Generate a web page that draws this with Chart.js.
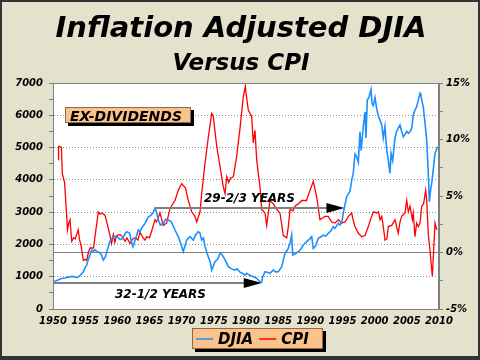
<!DOCTYPE html>
<html>
<head>
<meta charset="utf-8">
<script src="https://cdn.jsdelivr.net/npm/chart.js@4.4.1/dist/chart.umd.min.js"></script>
<style>
  html, body { margin: 0; padding: 0; background: #e4e2cd; }
</style>
</head>
<body>
<canvas id="djiaChart" width="480" height="360"></canvas>
<script>
// Inflation adjusted DJIA (left axis)
const djiaYears = [
  1950.00, 1950.40, 1950.80, 1951.09, 1951.50, 1951.90, 1952.13, 1952.64, 1953.00, 1953.40,
  1953.68, 1953.93, 1954.30, 1954.71, 1955.00, 1955.24, 1955.50, 1955.75, 1956.02, 1956.30,
  1956.53, 1956.84, 1957.20, 1957.50, 1957.82, 1958.10, 1958.40, 1958.86, 1959.37, 1959.90,
  1960.41, 1960.80, 1961.19, 1961.46, 1961.90, 1962.23, 1962.43, 1962.80, 1963.26, 1963.52,
  1963.90, 1964.30, 1964.81, 1965.20, 1965.54, 1965.85, 1966.10, 1966.37, 1966.70, 1967.14,
  1967.50, 1967.92, 1968.40, 1968.96, 1969.48, 1969.90, 1970.25, 1970.78, 1971.30, 1971.81,
  1972.20, 1972.59, 1972.85, 1973.11, 1973.40, 1973.63, 1974.14, 1974.45, 1974.67, 1975.18,
  1975.60, 1975.96, 1976.20, 1976.47, 1976.80, 1977.25, 1977.70, 1978.00, 1978.29, 1978.60,
  1979.07, 1979.50, 1979.84, 1980.11, 1980.50, 1981.13, 1981.60, 1982.18, 1982.40, 1982.60,
  1982.95, 1983.40, 1983.73, 1984.24, 1984.60, 1985.02, 1985.55, 1986.06, 1986.50, 1986.84,
  1987.10, 1987.26, 1987.60, 1988.13, 1988.50, 1988.91, 1989.43, 1989.80, 1990.21, 1990.46,
  1990.80, 1991.24, 1991.60, 1992.02, 1992.40, 1992.79, 1993.20, 1993.57, 1993.83, 1994.35,
  1994.61, 1994.90, 1995.12, 1995.40, 1995.65, 1996.17, 1996.43, 1996.68, 1996.94, 1997.21,
  1997.46, 1997.72, 1997.90, 1998.23, 1998.50, 1998.65, 1998.85, 1999.10, 1999.43, 1999.60,
  1999.79, 2000.05, 2000.32, 2000.55, 2000.83, 2001.10, 2001.34, 2001.60, 2001.87, 2002.12,
  2002.38, 2002.55, 2002.80, 2003.16, 2003.40, 2003.94, 2004.20, 2004.45, 2004.71, 2004.98,
  2005.23, 2005.50, 2005.76, 2006.00, 2006.27, 2006.53, 2006.78, 2007.05, 2007.20, 2007.40,
  2007.56, 2007.80, 2008.09, 2008.34, 2008.50, 2008.70, 2008.87, 2009.10, 2009.38, 2009.55,
  2009.75
];
const djiaValues = [
  845, 870, 900, 930, 950, 960, 980, 1000, 1010, 990,
  975, 990, 1060, 1155, 1280, 1360, 1550, 1670, 1827, 1790,
  1840, 1775, 1760, 1690, 1517, 1600, 1800, 2100, 2240, 2260,
  2150, 2180, 2330, 2394, 2350, 2050, 1930, 2150, 2450, 2400,
  2550, 2650, 2850, 2900, 2980, 3117, 3000, 2755, 2600, 2653,
  2780, 2755, 2700, 2446, 2240, 2000, 1775, 2136, 2240, 2136,
  2300, 2394, 2350, 2136, 2200, 1930, 1620, 1450, 1207, 1465,
  1550, 1724, 1700, 1620, 1500, 1310, 1250, 1220, 1207, 1250,
  1140, 1100, 1053, 1104, 1050, 1000, 960, 845, 830, 1000,
  1155, 1130, 1104, 1207, 1150, 1155, 1310, 1724, 1850, 2033,
  2290, 1672, 1700, 1775, 1850, 1981, 2085, 2150, 2240, 1878,
  1950, 2188, 2230, 2290, 2250, 2343, 2420, 2548, 2498, 2653,
  2600, 2700, 2962, 3250, 3478, 3650, 3994, 4200, 4800, 4716,
  4550, 5500, 4900, 5645, 6100, 5300, 6470, 6550, 6800, 6350,
  6300, 6550, 6200, 6000, 5850, 5700, 5300, 5650, 4923, 4600,
  4200, 4820, 4600, 5300, 5500, 5700, 5500, 5335, 5400, 5500,
  5440, 5500, 5594, 6000, 6160, 6263, 6470, 6677, 6600, 6400,
  6263, 5800, 5230, 4200, 3322, 3700, 3900, 4300, 4820, 4900,
  5025
];

// CPI year-over-year % (right axis)
const cpiYears = [
  1950.82, 1950.87, 1951.00, 1951.30, 1951.45, 1951.56, 1951.80, 1952.13, 1952.25, 1952.45,
  1952.64, 1952.91, 1953.20, 1953.45, 1953.68, 1953.93, 1954.10, 1954.40, 1954.71, 1955.00,
  1955.24, 1955.50, 1955.75, 1956.30, 1956.53, 1957.04, 1957.30, 1957.60, 1958.08, 1958.40,
  1958.86, 1959.10, 1959.37, 1959.60, 1959.90, 1960.41, 1960.90, 1961.20, 1961.50, 1961.97,
  1962.40, 1962.80, 1963.20, 1963.52, 1964.00, 1964.30, 1964.56, 1965.00, 1965.34, 1965.85,
  1966.10, 1966.63, 1967.14, 1967.66, 1968.19, 1968.96, 1969.48, 1970.00, 1970.60, 1971.03,
  1971.56, 1972.07, 1972.34, 1972.85, 1973.11, 1973.63, 1974.14, 1974.67, 1974.90, 1975.45,
  1975.96, 1976.47, 1976.74, 1977.00, 1977.30, 1977.60, 1978.03, 1978.55, 1979.07, 1979.58,
  1979.90, 1980.00, 1980.36, 1980.89, 1981.13, 1981.40, 1981.66, 1981.91, 1982.18, 1982.44,
  1982.95, 1983.22, 1983.73, 1984.24, 1984.80, 1985.28, 1985.80, 1986.33, 1986.58, 1986.84,
  1987.30, 1987.62, 1988.13, 1988.66, 1989.40, 1989.95, 1990.46, 1990.99, 1991.50, 1992.28,
  1992.79, 1993.32, 1993.83, 1994.35, 1994.87, 1995.40, 1995.90, 1996.43, 1996.60, 1996.94,
  1997.46, 1997.98, 1998.50, 1999.01, 1999.54, 1999.79, 2000.32, 2000.60, 2000.83, 2001.10,
  2001.34, 2001.61, 2001.90, 2002.12, 2002.65, 2003.16, 2003.40, 2003.67, 2003.90, 2004.20,
  2004.71, 2004.98, 2005.23, 2005.50, 2005.85, 2006.00, 2006.27, 2006.53, 2006.78, 2007.05,
  2007.31, 2007.60, 2007.93, 2008.09, 2008.35, 2008.60, 2008.96, 2009.15, 2009.38, 2009.65
];
const cpiValues = [
  8.2, 9.4, 9.4, 9.3, 7.0, 6.7, 6.2, 3.2, 2.0, 2.6,
  2.9, 1.0, 1.3, 1.2, 1.6, 2.0, 1.2, 0.5, -0.7, -0.6,
  -0.7, 0.0, 0.4, 0.4, 1.4, 3.6, 3.4, 3.5, 3.3, 2.6,
  1.5, 0.8, 1.6, 0.9, 1.5, 1.6, 1.3, 1.0, 1.3, 0.8,
  1.2, 1.3, 1.1, 1.8, 1.3, 1.1, 1.4, 1.3, 1.9, 2.9,
  2.7, 3.5, 2.4, 2.6, 3.9, 4.6, 5.5, 6.1, 5.7, 4.6,
  3.6, 3.2, 2.7, 3.6, 5.2, 7.9, 10.2, 12.3, 12.1, 9.4,
  7.6, 5.8, 5.2, 6.7, 6.2, 6.6, 6.7, 8.5, 11.0, 13.8,
  14.7, 14.1, 12.6, 12.0, 9.7, 10.8, 8.2, 7.0, 5.8, 3.8,
  3.5, 2.4, 4.6, 4.3, 3.8, 3.5, 1.5, 1.3, 2.3, 3.8,
  3.7, 4.1, 4.3, 4.6, 4.6, 5.5, 6.3, 4.9, 2.9, 3.2,
  3.2, 2.7, 2.6, 2.9, 2.6, 2.7, 3.2, 3.5, 3.0, 2.3,
  1.7, 1.4, 1.5, 2.3, 3.2, 3.6, 3.5, 3.6, 2.9, 3.2,
  2.3, 1.1, 1.2, 2.3, 2.4, 2.9, 2.3, 1.7, 2.6, 3.2,
  3.5, 4.6, 3.6, 4.1, 2.9, 3.5, 1.4, 2.6, 2.3, 2.6,
  4.1, 4.3, 5.5, 4.6, 1.5, 0.2, -2.1, 0.0, 2.6, 2.0
];

const yearTicks = [1950, 2010, 5];
const djiaRange = [0, 7000];
const cpiRange = [-5, 15];

// the two "years" arrows: [startYear, endYear, djiaLevel, label]
const arrows = [
  [1950.0, 1982.45, 800, '32-1/2 YEARS'],
  [1965.85, 1995.3, 3117, '29-2/3 YEARS']
];

const FONT = '"DejaVu Sans", Verdana, sans-serif';
const PEACH = '#fbc38c';

Chart.defaults.font.family = FONT;
Chart.defaults.font.style = 'italic';
Chart.defaults.font.weight = 'bold';
Chart.defaults.font.size = 10;
Chart.defaults.color = '#000';

function box(ctx, x, y, w, h) {
  ctx.fillStyle = '#000';
  ctx.fillRect(x + 3, y + 3, w, h);
  ctx.fillStyle = PEACH;
  ctx.fillRect(x, y, w, h);
  ctx.strokeStyle = '#8a6a4a';
  ctx.lineWidth = 1;
  ctx.strokeRect(x + 0.5, y + 0.5, w - 1, h - 1);
}

const decor = {
  id: 'decor',
  beforeDraw(chart) {
    const { ctx, chartArea: a } = chart;
    ctx.save();
    ctx.fillStyle = '#e4e2cd';
    ctx.fillRect(0, 0, chart.width, chart.height);
    ctx.fillStyle = '#fff';
    ctx.fillRect(a.left, a.top, a.right - a.left, a.bottom - a.top);
    ctx.restore();
  },
  afterDraw(chart) {
    const { ctx, chartArea: a, scales } = chart;
    ctx.save();
    // plot frame
    ctx.strokeStyle = '#808080';
    ctx.lineWidth = 1;
    ctx.strokeRect(a.left + 0.5, a.top + 0.5, a.right - a.left - 1, a.bottom - a.top);

    // title
    ctx.fillStyle = '#000';
    ctx.textAlign = 'center';
    ctx.textBaseline = 'alphabetic';
    ctx.font = 'italic bold 29px ' + FONT;
    ctx.fillText('Inflation Adjusted DJIA', 241, 37);
    ctx.font = 'italic bold 23px ' + FONT;
    ctx.fillText('Versus CPI', 241, 70);

    // arrows
    arrows.forEach(([y0, y1, lvl, label], i) => {
      const x0 = scales.x.getPixelForValue(y0);
      const x1 = scales.x.getPixelForValue(y1);
      const yy = Math.round(scales.y.getPixelForValue(lvl));
      ctx.strokeStyle = '#808080';
      ctx.lineWidth = 2;
      ctx.beginPath();
      ctx.moveTo(x0, yy);
      ctx.lineTo(x1 - 16, yy);
      ctx.stroke();
      ctx.fillStyle = '#000';
      ctx.beginPath();
      ctx.moveTo(x1, yy);
      ctx.lineTo(x1 - 18, yy - 5);
      ctx.lineTo(x1 - 18, yy + 5);
      ctx.closePath();
      ctx.fill();
      ctx.font = 'italic bold 12px ' + FONT;
      ctx.textAlign = 'left';
      if (i === 0) ctx.fillText(label, 115, 298);
      else ctx.fillText(label, 204, 202);
    });

    // EX-DIVIDENDS tag
    box(ctx, 65, 107, 126, 16);
    ctx.fillStyle = '#000';
    ctx.font = 'italic bold 14px ' + FONT;
    ctx.textAlign = 'left';
    ctx.fillText('EX-DIVIDENDS', 70, 121);

    // legend
    box(ctx, 192, 328, 131, 21);
    ctx.font = 'italic bold 15px ' + FONT;
    let lx = 196;
    chart.data.datasets.forEach(ds => {
      ctx.strokeStyle = ds.borderColor;
      ctx.lineWidth = 1.5;
      ctx.beginPath();
      ctx.moveTo(lx, 339);
      ctx.lineTo(lx + 17, 339);
      ctx.stroke();
      ctx.fillStyle = '#000';
      ctx.fillText(ds.label, lx + 22, 344);
      lx += 22 + ctx.measureText(ds.label).width + 6;
    });

    // outer frame
    ctx.strokeStyle = '#333';
    ctx.lineWidth = 2;
    ctx.strokeRect(1, 1, chart.width - 2, chart.height - 2);
    ctx.fillStyle = '#333';
    ctx.fillRect(0, chart.height - 4, chart.width, 4);
    ctx.restore();
  }
};

new Chart(document.getElementById('djiaChart'), {
  type: 'line',
  data: {
    datasets: [
      {
        label: 'DJIA',
        data: djiaYears.map((x, i) => ({ x, y: djiaValues[i] })),
        borderColor: '#1e8fff',
        borderWidth: 1.6,
        pointRadius: 0,
        yAxisID: 'y'
      },
      {
        label: 'CPI',
        data: cpiYears.map((x, i) => ({ x, y: cpiValues[i] })),
        borderColor: '#ff0000',
        borderWidth: 1.3,
        pointRadius: 0,
        yAxisID: 'y2'
      }
    ]
  },
  options: {
    responsive: false,
    animation: false,
    layout: { padding: { top: 83, left: 0, right: 0, bottom: 0 } },
    plugins: { legend: { display: false }, tooltip: { enabled: false } },
    scales: {
      x: {
        type: 'linear',
        min: yearTicks[0],
        max: yearTicks[1],
        afterFit: s => { s.height = 51; },
        grid: { display: false, drawTicks: false },
        border: { display: true, color: '#808080' },
        ticks: { stepSize: yearTicks[2], autoSkip: false, maxRotation: 0, padding: 6, includeBounds: false,
                  callback: v => String(v) }
      },
      y: {
        position: 'left',
        min: djiaRange[0],
        max: djiaRange[1],
        afterFit: s => { s.width = 53; },
        grid: {
          color: c => (c.tick && c.tick.value % 1000 === 0) ? '#8c8c8c' : 'rgba(0,0,0,0)',
          tickColor: '#808080',
          tickLength: 4
        },
        border: { color: '#808080', dash: [1, 2] },
        ticks: { stepSize: 500, autoSkip: false, padding: 6,
                  callback: v => v % 1000 === 0 ? String(v) : '' }
      },
      y2: {
        position: 'right',
        min: cpiRange[0],
        max: cpiRange[1],
        afterFit: s => { s.width = 41; },
        grid: {
          color: c => (c.tick && c.tick.value === 0) ? '#808080' : 'rgba(0,0,0,0)',
          tickColor: '#808080',
          tickLength: 4
        },
        border: { color: '#808080' },
        ticks: { stepSize: 2.5, autoSkip: false, padding: 3,
                  callback: v => v % 5 === 0 ? v + '%' : '' }
      }
    }
  },
  plugins: [decor]
});
</script>
</body>
</html>
